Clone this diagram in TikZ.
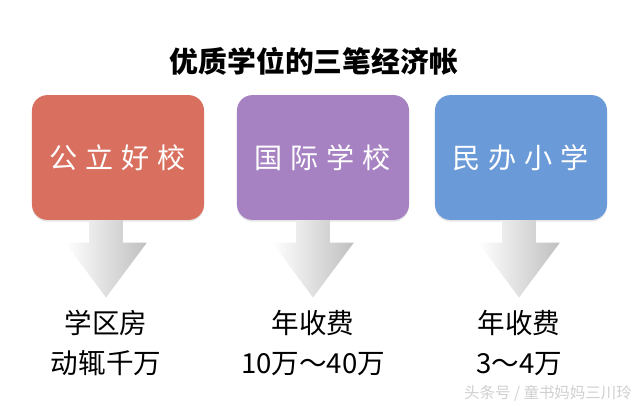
\documentclass[tikz,border=0pt]{standalone}
\usepackage{fontspec}
\setmainfont{Noto Sans CJK SC}
\usetikzlibrary{calc,shadows}
\definecolor{gongli}{HTML}{D9705F}
\definecolor{guoji}{HTML}{A682C2}
\definecolor{minban}{HTML}{6A9BD8}
\tikzset{
  school/.style={fill=#1,rounded corners=11pt,minimum width=4.3cm,minimum height=3.12cm,
    text=white,font=\fontsize{20}{24}\selectfont,
    drop shadow={shadow xshift=0pt,shadow yshift=-1.2pt,opacity=0.2}},
  fee/.style={align=center,font=\fontsize{19.6}{28.5}\selectfont},
}
\newcommand{\zisp}{\hspace{0.28em}}
\begin{document}
\begin{tikzpicture}[x=0.025cm,y=-0.025cm]
\useasboundingbox (0,0) rectangle (640,406);
\node[font=\fontsize{20.5}{24}\selectfont\bfseries] (title) at (314,61) {优质学位的三笔经济帐};
% three boxes
\node[school=gongli] (gongli) at (118,157.5) {公\zisp 立\zisp 好\zisp 校};
\node[school=guoji] (guoji) at (323,157.5) {国\zisp 际\zisp 学\zisp 校};
\node[school=minban] (minban) at (521,157.5) {民\zisp 办\zisp 小\zisp 学};
% costs
\node[fee] (fang) at (106,343) {学区房\\动辄千万};
\node[fee] (guojifee) at (313,343) {年收费\\10万～40万};
\node[fee] (minbanfee) at (519,343) {年收费\\3～4万};
% big arrows
\foreach \b/\t in {gongli/fang,guoji/guojifee,minban/minbanfee}
  \shade[left color=white,right color=gray!50] let \p1=(\t.north), \p2=(\b.south) in
    (\x1-12pt,\y2) -- (\x1+12pt,\y2) -- (\x1+12pt,\y2-16pt) -- (\x1+29pt,\y2-16pt)
    -- (\x1,\y2-55pt) -- (\x1-29pt,\y2-16pt) -- (\x1-12pt,\y2-16pt) -- cycle;
\node[text=gray!38,font=\fontsize{11}{12}\selectfont] (mark) at (548,393) {头条号 / 童书妈妈三川玲};
\end{tikzpicture}
\end{document}
